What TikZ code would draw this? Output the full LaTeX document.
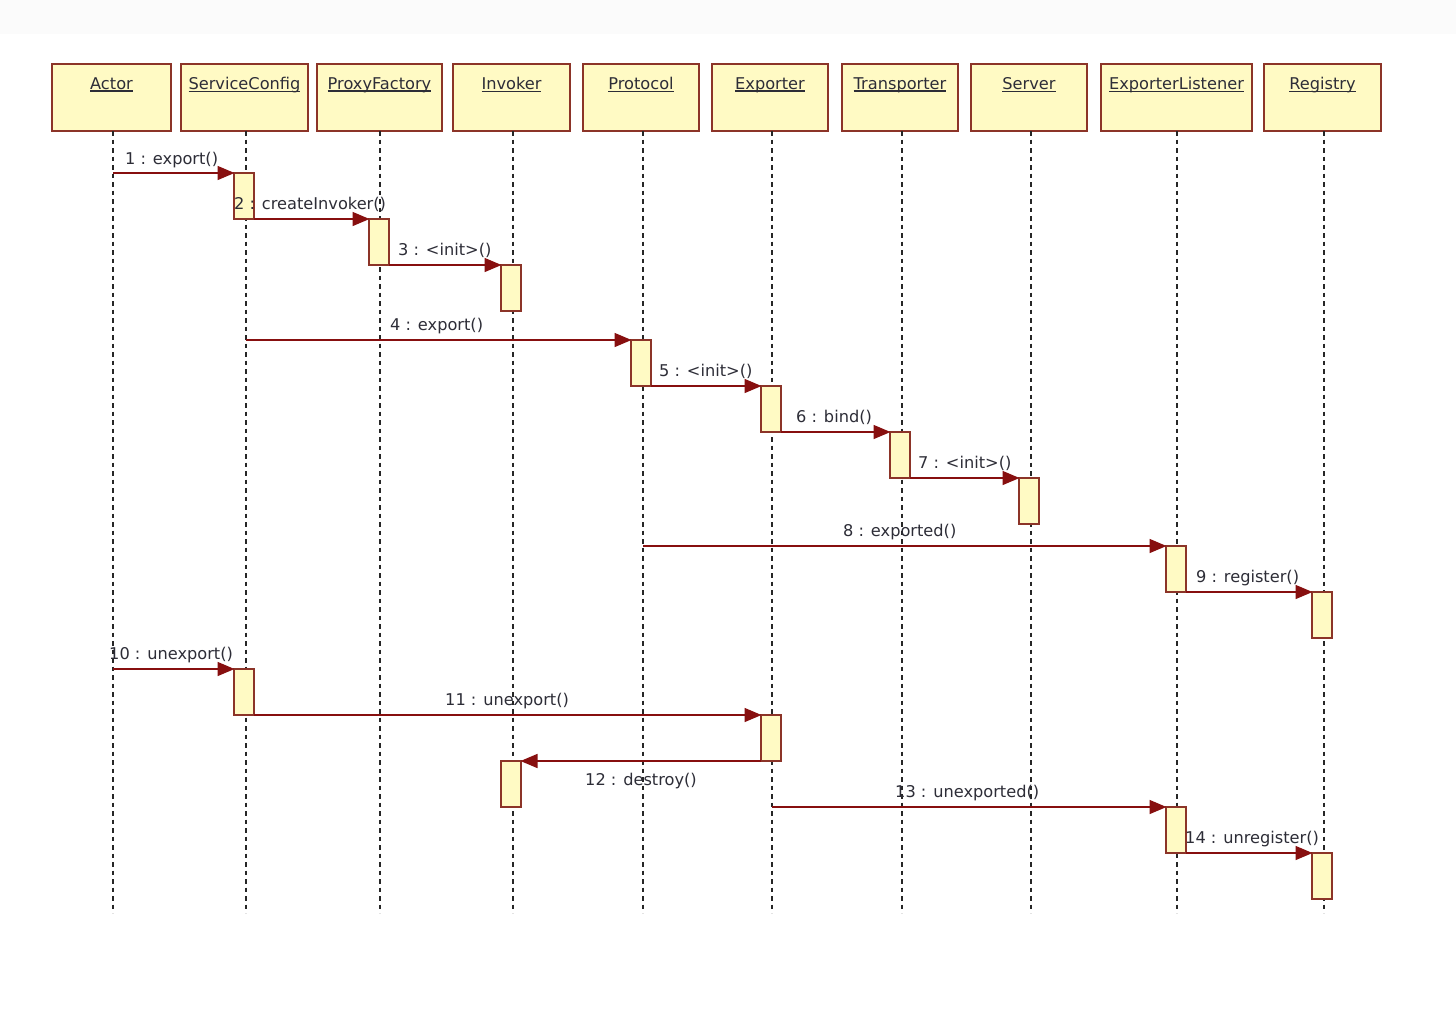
\documentclass[tikz,border=0pt]{standalone}
\usepackage{fontspec}
\setmainfont{DejaVu Sans}
\usetikzlibrary{arrows.meta}
\definecolor{boxc}{RGB}{140,52,40}
\definecolor{boxf}{RGB}{255,250,196}
\definecolor{msgc}{RGB}{135,15,15}
\definecolor{txtc}{RGB}{45,45,55}
\definecolor{topband}{RGB}{251,251,251}
\newcommand\lblfont{\fontsize{16.2pt}{18pt}\selectfont}
\newcommand\hul[1]{\setbox0\hbox{#1}\rlap{\rule[-2.6pt]{\wd0}{1.2pt}}\box0}
\tikzset{
  head/.style={draw=boxc, fill=boxf, line width=1.5pt, minimum height=67pt, inner sep=0, outer sep=0, anchor=north west},
  htext/.style={text=txtc, font=\lblfont, inner sep=0, anchor=north, yshift=-13pt},
  act/.style={draw=boxc, fill=boxf, line width=1.5pt, minimum width=20pt, minimum height=46pt, inner sep=0, outer sep=0, anchor=north west},
  life/.style={line width=1.9pt, dash pattern=on 4.5pt off 4pt, black!85},
  msg/.style={draw=msgc, line width=1.5pt, -{Triangle[length=17pt,width=14pt]}, shorten >=-0.5pt},
  lbl/.style={text=txtc, font=\lblfont, inner sep=0, anchor=mid west, yshift=-4pt},
}
\begin{document}
\begin{tikzpicture}[x=1pt,y=-1pt]
\useasboundingbox[fill=white] (0,0) rectangle (1456,1009);
\fill[topband] (0,0) rectangle (1456,34);
% headers
\node[head, minimum width=119pt, label={[htext]north:\hul{Actor}}] (actor) at (52,64) {};
\node[head, minimum width=127pt, label={[htext]north:\hul{ServiceConfig}}] (sconf) at (181,64) {};
\node[head, minimum width=125pt, label={[htext]north:\hul{ProxyFactory}}] (pfac) at (317,64) {};
\node[head, minimum width=117pt, label={[htext]north:\hul{Invoker}}] (inv) at (453,64) {};
\node[head, minimum width=116pt, label={[htext]north:\hul{Protocol}}] (proto) at (583,64) {};
\node[head, minimum width=116pt, label={[htext]north:\hul{Exporter}}] (expo) at (712,64) {};
\node[head, minimum width=116pt, label={[htext]north:\hul{Transporter}}] (trans) at (842,64) {};
\node[head, minimum width=116pt, label={[htext]north:\hul{Server}}] (serv) at (971,64) {};
\node[head, minimum width=151pt, label={[htext]north:\hul{ExporterListener}}] (elis) at (1101,64) {};
\node[head, minimum width=117pt, label={[htext]north:\hul{Registry}}] (reg) at (1264,64) {};
% lifeline ends
\coordinate (actorE) at (113,913);
\coordinate (sconfE) at (246,913);
\coordinate (pfacE) at (380,913);
\coordinate (invE) at (513,913);
\coordinate (protoE) at (643,913);
\coordinate (expoE) at (772,913);
\coordinate (transE) at (902,913);
\coordinate (servE) at (1031,913);
\coordinate (elisE) at (1177,913);
\coordinate (regE) at (1324,913);
\foreach \n in {actor,sconf,pfac,inv,proto,expo,trans,serv,elis,reg}
  \draw[life] (\n.south -| \n E) -- (\n E);
% activations
\node[act] (a1) at (234,173) {};
\node[act] (a2) at (369,219) {};
\node[act] (a3) at (501,265) {};
\node[act] (a4) at (631,340) {};
\node[act] (a5) at (761,386) {};
\node[act] (a6) at (890,432) {};
\node[act] (a7) at (1019,478) {};
\node[act] (a8) at (1166,546) {};
\node[act] (a9) at (1312,592) {};
\node[act] (a10) at (234,669) {};
\node[act] (a11) at (761,715) {};
\node[act] (a12) at (501,761) {};
\node[act] (a13) at (1166,807) {};
\node[act] (a14) at (1312,853) {};
% message sources on lifelines
\coordinate (s1) at (113,173);
\coordinate (s4) at (246,340);
\coordinate (s8) at (643,546);
\coordinate (s10) at (113,669);
\coordinate (s13) at (772,807);
% messages
\draw[msg] (s1) -- (a1.north west);
\draw[msg] (a1.south east) -- (a2.north west);
\draw[msg] (a2.south east) -- (a3.north west);
\draw[msg] (s4) -- (a4.north west);
\draw[msg] (a4.south east) -- (a5.north west);
\draw[msg] (a5.south east) -- (a6.north west);
\draw[msg] (a6.south east) -- (a7.north west);
\draw[msg] (s8) -- (a8.north west);
\draw[msg] (a8.south east) -- (a9.north west);
\draw[msg] (s10) -- (a10.north west);
\draw[msg] (a10.south east) -- (a11.north west);
\draw[msg] (a11.south west) -- (a12.north east);
\draw[msg] (s13) -- (a13.north west);
\draw[msg] (a13.south east) -- (a14.north west);
% labels
\node[lbl] (l1) at (125,158) {1 : export()};
\node[lbl] (l2) at (234,203) {2 : createInvoker()};
\node[lbl] (l3) at (398,249) {3 : <init>()};
\node[lbl] (l4) at (390,324) {4 : export()};
\node[lbl] (l5) at (659,370) {5 : <init>()};
\node[lbl] (l6) at (796,416) {6 : bind()};
\node[lbl] (l7) at (918,462) {7 : <init>()};
\node[lbl] (l8) at (843,530) {8 : exported()};
\node[lbl] (l9) at (1196,576) {9 : register()};
\node[lbl] (l10) at (109,653) {10 : unexport()};
\node[lbl] (l11) at (445,699) {11 : unexport()};
\node[lbl] (l12) at (585,779) {12 : destroy()};
\node[lbl] (l13) at (895,791) {13 : unexported()};
\node[lbl] (l14) at (1185,837) {14 : unregister()};
\end{tikzpicture}
\end{document}
